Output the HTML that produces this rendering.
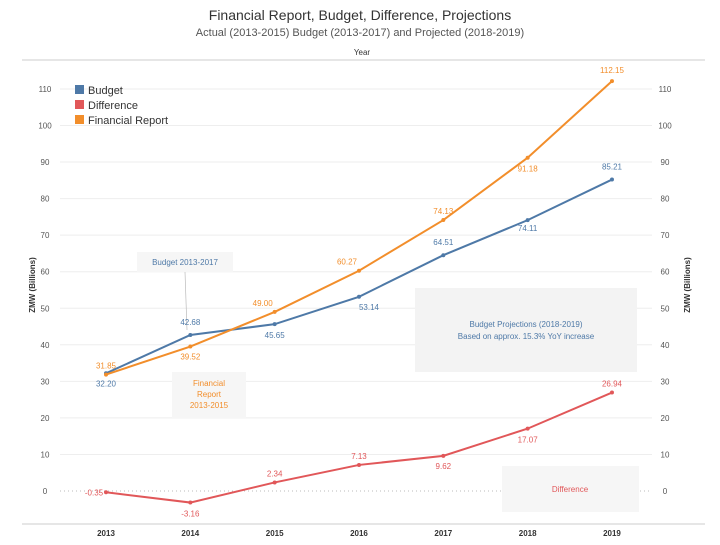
<!DOCTYPE html>
<html><head><meta charset="utf-8"><style>
body{margin:0;background:#fff;font-family:"Liberation Sans",sans-serif}
svg text{font-family:"Liberation Sans",sans-serif}
</style></head><body>
<svg id="chart" width="720" height="540" xmlns="http://www.w3.org/2000/svg">
<text x="360" y="20" text-anchor="middle" font-size="14" fill="#333">Financial Report, Budget, Difference, Projections</text>
<text x="360" y="36" text-anchor="middle" font-size="11" fill="#555">Actual (2013-2015) Budget (2013-2017) and Projected (2018-2019)</text>
<text x="362" y="55" text-anchor="middle" font-size="8" fill="#333">Year</text>
<line x1="22" y1="60" x2="705" y2="60" stroke="#ccc"/>
<line x1="22" y1="524" x2="705" y2="524" stroke="#ccc"/>
<g id="grid"></g>
<text transform="translate(35,285) rotate(-90)" text-anchor="middle" font-size="8" font-weight="bold" fill="#333">ZMW (Billions)</text>
<text transform="translate(690,285) rotate(-90)" text-anchor="middle" font-size="8" font-weight="bold" fill="#333">ZMW (Billions)</text>
<rect x="137" y="252" width="96" height="20" fill="#f6f6f6"/>
<text x="185" y="265" text-anchor="middle" font-size="8" fill="#4e79a7">Budget 2013-2017</text>
<line x1="185" y1="272" x2="187" y2="330" stroke="#bbb" stroke-width="0.7"/>
<rect x="415" y="288" width="222" height="84" fill="#f3f3f3"/>
<text x="526" y="327" text-anchor="middle" font-size="8" fill="#4e79a7">Budget Projections (2018-2019)</text>
<text x="526" y="339" text-anchor="middle" font-size="8" fill="#4e79a7">Based on approx. 15.3% YoY increase</text>
<rect x="172" y="372" width="74" height="46" fill="#f6f6f6"/>
<text x="209" y="386" text-anchor="middle" font-size="8" fill="#f28e2b"><tspan x="209">Financial</tspan><tspan x="209" dy="11">Report</tspan><tspan x="209" dy="11">2013-2015</tspan></text>
<rect x="502" y="466" width="137" height="46" fill="#f6f6f6"/>
<text x="570" y="492" text-anchor="middle" font-size="8" fill="#e15759">Difference</text>
<g id="series"></g>
<g>
<rect x="75" y="85" width="9" height="9" fill="#4e79a7"/><text x="88" y="94" font-size="11" fill="#333">Budget</text>
<rect x="75" y="100" width="9" height="9" fill="#e15759"/><text x="88" y="109" font-size="11" fill="#333">Difference</text>
<rect x="75" y="115" width="9" height="9" fill="#f28e2b"/><text x="88" y="124" font-size="11" fill="#333">Financial Report</text>
</g>
</svg>
<script>
const years=[2013,2014,2015,2016,2017,2018,2019];
const budget=[32.20,42.68,45.65,53.14,64.51,74.11,85.21];
const financial=[31.85,39.52,49.00,60.27,74.13,91.18,112.15];
const difference=[-0.35,-3.16,2.34,7.13,9.62,17.07,26.94];
const yTicks=[0,10,20,30,40,50,60,70,80,90,100,110];
const NS='http://www.w3.org/2000/svg';
const x=i=>106+i*84.33;
const y=v=>491-v*3.655;
function mk(tag,attrs,parent){const e=document.createElementNS(NS,tag);for(const k in attrs)e.setAttribute(k,attrs[k]);parent.appendChild(e);return e;}
const grid=document.getElementById('grid');
yTicks.forEach(t=>{
  const ln=mk('line',{x1:60,x2:652,y1:y(t),y2:y(t),stroke:t===0?'#bbb':'#eee','stroke-dasharray':t===0?'1,3':''},grid);
  
  
  const l=mk('text',{x:45,y:y(t)+3,'text-anchor':'middle','font-size':8,fill:'#555'},grid);l.textContent=t;
  
  
  const r=mk('text',{x:665,y:y(t)+3,'text-anchor':'middle','font-size':8,fill:'#555'},grid);r.textContent=t;
  
  
});
years.forEach((yr,i)=>{
  const t=mk('text',{x:x(i),y:536,'text-anchor':'middle','font-size':8,'font-weight':'bold',fill:'#333'},grid);t.textContent=yr;
  
  
});
const S=document.getElementById('series');
function draw(vals,color,name,offs){
  const p=mk('polyline',{points:vals.map((v,i)=>x(i)+','+y(v)).join(' '),fill:'none',stroke:color,'stroke-width':2},S);
  
  
  vals.forEach((v,i)=>{
    const c=mk('circle',{cx:x(i),cy:y(v),r:2,fill:color},S);
    
    
    const t=mk('text',{x:x(i)+offs[i][0],y:y(v)+offs[i][1],'text-anchor':'middle','font-size':8,fill:color},S);
    t.textContent=v.toFixed(2);
    
    
  });
}
draw(budget,'#4e79a7','budget',[[0,13],[0,-10],[0,14],[10,13],[0,-10],[0,11],[0,-10]]);
draw(financial,'#f28e2b','financial',[[0,-6],[0,13],[-12,-6],[-12,-6],[0,-6],[0,14],[0,-8]]);
draw(difference,'#e15759','difference',[[-12,3],[0,14],[0,-6],[0,-6],[0,13],[0,14],[0,-6]]);
</script>
</body></html>
